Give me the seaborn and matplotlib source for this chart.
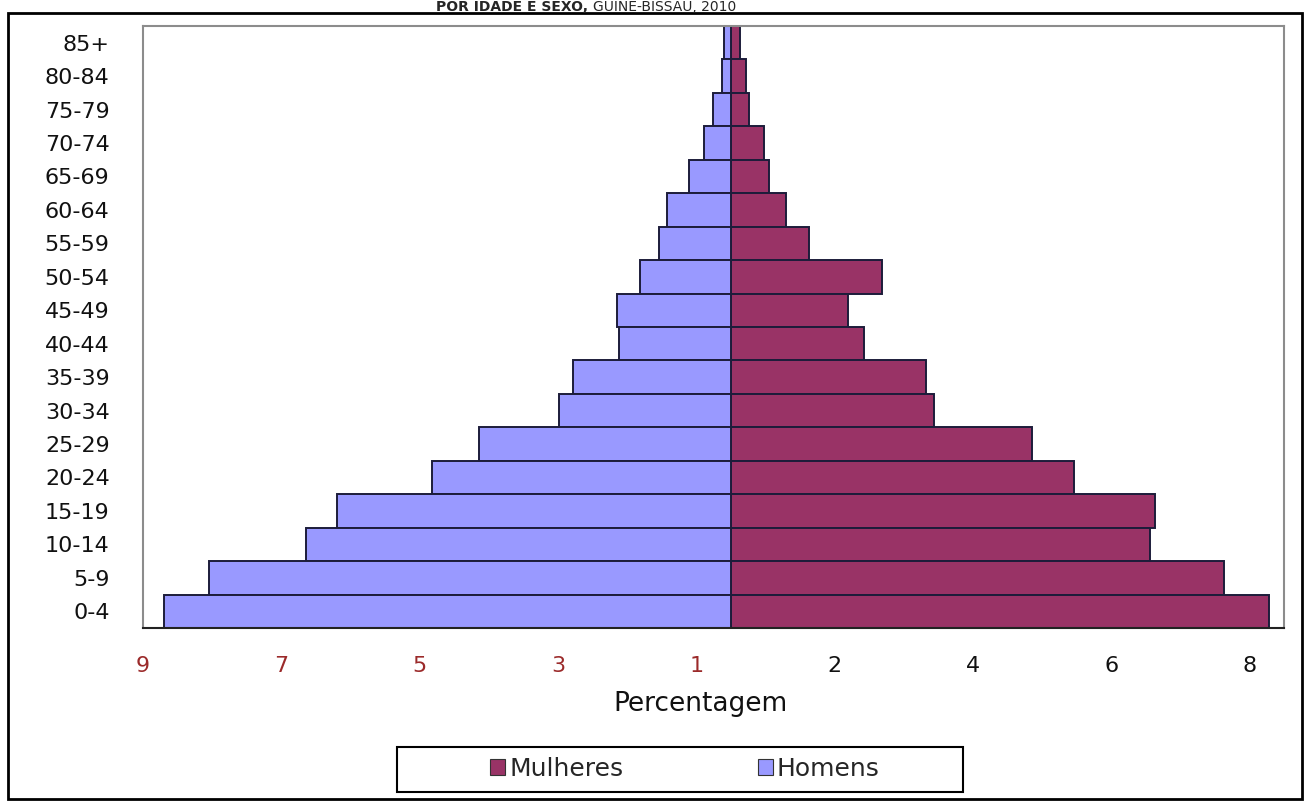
import matplotlib
matplotlib.use("Agg")
import matplotlib.pyplot as plt
from matplotlib.patches import Rectangle, Patch
import seaborn as sns
import pandas as pd

# ---- data ----
age_groups = ['85+', '80-84', '75-79', '70-74', '65-69', '60-64', '55-59', '50-54', '45-49',
              '40-44', '35-39', '30-34', '25-29', '20-24', '15-19', '10-14', '5-9', '0-4']
homens = [0.10, 0.13, 0.26, 0.39, 0.60, 0.92, 1.04, 1.32, 1.65,
          1.62, 2.28, 2.49, 3.64, 4.32, 5.70, 6.15, 7.55, 8.20]
mulheres = [0.14, 0.22, 0.27, 0.48, 0.55, 0.80, 1.13, 2.18, 1.69,
            1.92, 2.82, 2.94, 4.35, 4.97, 6.13, 6.06, 7.13, 7.79]
series_names = ['Mulheres', 'Homens']
x_tick_pos = [-8.5, -6.5, -4.5, -2.5, -0.5, 1.5, 3.5, 5.5, 7.5]
x_tick_labels = ['9', '7', '5', '3', '1', '2', '4', '6', '8']
x_label = 'Percentagem'
title_bold = 'POR IDADE E SEXO, '
title_rest = 'GUINÉ-BISSAU, 2010'

colors = {'Mulheres': '#993366', 'Homens': '#9999FF'}

sns.set_style('white')
plt.rcParams['font.family'] = ['DejaVu Sans']

df = pd.DataFrame({
    'age': age_groups * 2,
    'value': mulheres + [-v for v in homens],
    'sex': ['Mulheres'] * len(age_groups) + ['Homens'] * len(age_groups),
})

fig = plt.figure(figsize=(13.07, 8.01), dpi=100)
ax = fig.add_axes([143 / 1307, 1 - 628 / 801, 1141 / 1307, 602 / 801])

sns.barplot(data=df, x='value', y='age', hue='sex', order=age_groups,
            hue_order=series_names, palette=colors, dodge=False, width=1.0,
            saturation=1, orient='h', edgecolor='#1c1c3a', linewidth=1.4,
            ax=ax, legend=False)

ax.set_xlim(-8.5, 8.0)
ax.set_xticks(x_tick_pos)
ax.set_xticklabels(x_tick_labels, fontsize=16)
for i, t in enumerate(ax.get_xticklabels()):
    t.set_color('#9b2a2a' if i < 5 else '#111111')
ax.tick_params(axis='x', direction='out', length=5, width=1.2, color='black', pad=15)
ax.tick_params(axis='y', length=0, pad=24, labelsize=16, labelcolor='#111111')
ax.set_ylabel('')
ax.set_xlabel(x_label, fontsize=19, color='#111111', labelpad=12)
ax.xaxis.set_label_coords((700 - 143) / 1141, -0.105)

for s in ['top', 'right', 'left']:
    ax.spines[s].set_color('#8c8c8c')
    ax.spines[s].set_linewidth(1.5)
ax.spines['bottom'].set_color('#222222')
ax.spines['bottom'].set_linewidth(1.5)

# outer frame
fig.add_artist(Rectangle((8 / 1307, 1 - 799 / 801), 1294 / 1307, 786 / 801,
                         transform=fig.transFigure, fill=False, edgecolor='black', linewidth=2))
# legend box
fig.add_artist(Rectangle((397 / 1307, 1 - 792 / 801), 566 / 1307, 45 / 801,
                         transform=fig.transFigure, fill=False, edgecolor='black', linewidth=1.5))
handles = [Patch(facecolor=colors[n], edgecolor='#333333', linewidth=0.8) for n in series_names]
fig.legend(handles, series_names, loc='center', bbox_to_anchor=(685 / 1307, 1 - 769 / 801),
           ncol=2, frameon=False, fontsize=18, handlelength=0.6, handleheight=0.6,
           handletextpad=0.15, columnspacing=5.4)

# title
fig.text(593 / 1307, 1 - 11 / 801, title_bold, ha='right', va='baseline',
         fontsize=10, fontweight='bold')
fig.text(593 / 1307, 1 - 11 / 801, title_rest, ha='left', va='baseline', fontsize=10)

fig.savefig('out.png', dpi=100, facecolor='white')
